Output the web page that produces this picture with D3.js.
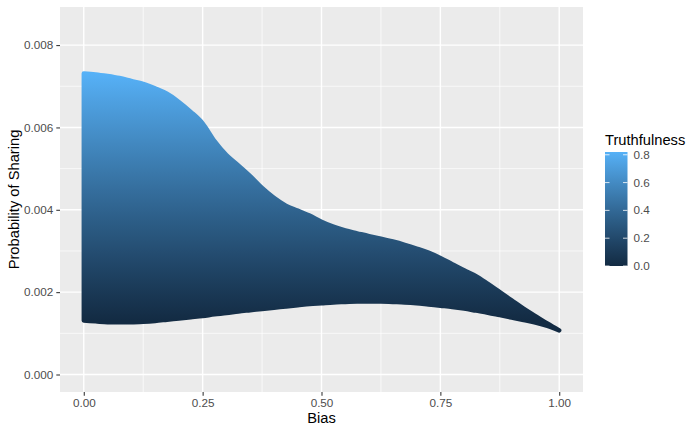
<!DOCTYPE html>
<html>
<head>
<meta charset="utf-8">
<script src="https://cdn.jsdelivr.net/npm/d3@7"></script>
<style>
body { margin: 0; background: #fff; }
text { font-family: "Liberation Sans", Arial, sans-serif; }
</style>
</head>
<body>
<svg id="chart" width="700" height="433"></svg>
<script>
// bias grid and the spread of sharing probability
var bias = [0, 0.025, 0.05, 0.075, 0.1, 0.125, 0.15, 0.175, 0.2, 0.225, 0.25, 0.275, 0.3, 0.325, 0.35, 0.375, 0.4, 0.425, 0.45, 0.475,
            0.5, 0.525, 0.55, 0.575, 0.6, 0.625, 0.65, 0.675, 0.7, 0.725, 0.75, 0.775, 0.8, 0.825, 0.85, 0.875, 0.9, 0.925, 0.95, 0.975, 1]
var upperProb = [0.00731, 0.00729, 0.00725, 0.00720, 0.00713, 0.00706, 0.00695, 0.00682, 0.00662, 0.00638, 0.00610, 0.00567, 0.00533, 0.00508,
                 0.00482, 0.00453, 0.00429, 0.00410, 0.00398, 0.00386, 0.00371, 0.00359, 0.00350, 0.00343, 0.00336, 0.00330, 0.00323,
                 0.00315, 0.00306, 0.00296, 0.00283, 0.00268, 0.00253, 0.00239, 0.00220, 0.00200, 0.00180, 0.00160, 0.00142, 0.00124, 0.00107]
var lowerProb = [0.00131, 0.00129, 0.00127, 0.00127, 0.00127, 0.00128, 0.00130, 0.00133, 0.00136, 0.00139, 0.00142, 0.00146, 0.00149, 0.00153,
                 0.00156, 0.00159, 0.00162, 0.00165, 0.00168, 0.00171, 0.00173, 0.00175, 0.00176, 0.00177, 0.00177, 0.00177, 0.00176,
                 0.00175, 0.00173, 0.00170, 0.00167, 0.00164, 0.00160, 0.00155, 0.00150, 0.00144, 0.00138, 0.00132, 0.00126, 0.00118, 0.00107]

var xTicks = [0, 0.25, 0.5, 0.75, 1]
var yTicks = [0, 0.002, 0.004, 0.006, 0.008]
var truthTicks = [0, 0.2, 0.4, 0.6, 0.8]
var truthLimits = [0, 0.82]
var truthProb = [0.00131, 0.00731] // where lowest / highest truthfulness sit (bias 0 column)

var svg = d3.select("#chart")
var panel = {left: 60, right: 583, top: 7, bottom: 392}

var x = d3.scaleLinear().domain([-0.05, 1.05]).range([panel.left, panel.right])
var y = d3.scaleLinear().domain([-0.000425, 0.008925]).range([panel.bottom, panel.top])
var color = d3.scaleLinear().domain(truthLimits).range(["#132B43", "#56B1F7"]).interpolate(d3.interpolateLab)

var defs = svg.append("defs")

// gradient across the data: truthfulness rises with probability
var grad = defs.append("linearGradient")
    .attr("id", "truthGrad")
    .attr("gradientUnits", "userSpaceOnUse")
    .attr("x1", 0).attr("x2", 0)
    .attr("y1", y(truthProb[0])).attr("y2", y(truthProb[1]))
d3.range(0, 1.0001, 0.1).forEach(function(f){
    grad.append("stop").attr("offset", f).attr("stop-color", color(truthLimits[0] + f * (truthLimits[1] - truthLimits[0])))
})

// legend gradient
var lgrad = defs.append("linearGradient")
    .attr("id", "legendGrad")
    .attr("x1", 0).attr("x2", 0).attr("y1", 1).attr("y2", 0)
d3.range(0, 1.0001, 0.1).forEach(function(f){
    lgrad.append("stop").attr("offset", f).attr("stop-color", color(truthLimits[0] + f * (truthLimits[1] - truthLimits[0])))
})

// panel background
svg.append("rect")
    .attr("x", panel.left).attr("y", panel.top)
    .attr("width", panel.right - panel.left).attr("height", panel.bottom - panel.top)
    .attr("fill", "#EBEBEB")

var xMinor = d3.pairs(xTicks).map(function(p){ return (p[0] + p[1]) / 2 })
var yMinor = d3.pairs(yTicks).map(function(p){ return (p[0] + p[1]) / 2 })

var grid = svg.append("g")
grid.selectAll(".xminor").data(xMinor).enter().append("line")
    .attr("x1", function(d){ return x(d) }).attr("x2", function(d){ return x(d) })
    .attr("y1", panel.top).attr("y2", panel.bottom)
    .attr("stroke", "#fff").attr("stroke-width", 0.7)
grid.selectAll(".yminor").data(yMinor).enter().append("line")
    .attr("y1", function(d){ return y(d) }).attr("y2", function(d){ return y(d) })
    .attr("x1", panel.left).attr("x2", panel.right)
    .attr("stroke", "#fff").attr("stroke-width", 0.7)
grid.selectAll(".xmajor").data(xTicks).enter().append("line")
    .attr("x1", function(d){ return x(d) }).attr("x2", function(d){ return x(d) })
    .attr("y1", panel.top).attr("y2", panel.bottom)
    .attr("stroke", "#fff").attr("stroke-width", 1.4)
grid.selectAll(".ymajor").data(yTicks).enter().append("line")
    .attr("y1", function(d){ return y(d) }).attr("y2", function(d){ return y(d) })
    .attr("x1", panel.left).attr("x2", panel.right)
    .attr("stroke", "#fff").attr("stroke-width", 1.4)

// the band of points
var rows = bias.map(function(b, i){ return {b: b, lo: lowerProb[i], hi: upperProb[i]} })
var area = d3.area()
    .x(function(d){ return x(d.b) })
    .y0(function(d){ return y(d.lo) })
    .y1(function(d){ return y(d.hi) })
    .curve(d3.curveMonotoneX)

svg.append("path")
    .datum(rows)
    .attr("d", area)
    .attr("fill", "url(#truthGrad)")
    .attr("stroke", "url(#truthGrad)")
    .attr("stroke-width", 4.4)
    .attr("stroke-linejoin", "round")

// axes
var xAxis = svg.append("g").attr("transform", "translate(0," + panel.bottom + ")")
    .call(d3.axisBottom(x).tickValues(xTicks).tickFormat(d3.format(".2f")).tickSize(3.7).tickPadding(3))
var yAxis = svg.append("g").attr("transform", "translate(" + panel.left + ",0)")
    .call(d3.axisLeft(y).tickValues(yTicks).tickFormat(d3.format(".3f")).tickSize(3.7).tickPadding(3))
;[xAxis, yAxis].forEach(function(a){
    a.select(".domain").remove()
    a.selectAll(".tick line").attr("stroke", "#333333").attr("stroke-width", 1.07)
    a.selectAll(".tick text").attr("fill", "#4D4D4D").style("font-size", "11.7px")
        .style("font-family", "'Liberation Sans', Arial, sans-serif")
})

svg.append("text")
    .attr("x", (panel.left + panel.right) / 2).attr("y", 423)
    .attr("text-anchor", "middle").style("font-size", "14.7px").attr("fill", "#000")
    .text("Bias")
svg.append("text")
    .attr("transform", "translate(19," + ((panel.top + panel.bottom) / 2) + ") rotate(-90)")
    .attr("text-anchor", "middle").style("font-size", "14.7px").attr("fill", "#000")
    .text("Probability of Sharing")

// colour bar legend
var bar = {x: 605, w: 22.5, top: 152, bottom: 266}
var ly = d3.scaleLinear().domain(truthLimits).range([bar.bottom, bar.top])
var legend = svg.append("g")
legend.append("text").attr("x", bar.x).attr("y", 144.5)
    .style("font-size", "14.7px").attr("fill", "#000").text("Truthfulness")
legend.append("rect")
    .attr("x", bar.x).attr("y", bar.top).attr("width", bar.w).attr("height", bar.bottom - bar.top)
    .attr("fill", "url(#legendGrad)")
legend.selectAll(".tl").data(truthTicks).enter().append("line")
    .attr("x1", bar.x).attr("x2", bar.x + bar.w / 5)
    .attr("y1", function(d){ return ly(d) }).attr("y2", function(d){ return ly(d) })
    .attr("stroke", "#fff").attr("stroke-width", 0.8)
legend.selectAll(".tr").data(truthTicks).enter().append("line")
    .attr("x1", bar.x + bar.w * 4 / 5).attr("x2", bar.x + bar.w)
    .attr("y1", function(d){ return ly(d) }).attr("y2", function(d){ return ly(d) })
    .attr("stroke", "#fff").attr("stroke-width", 0.8)
legend.selectAll(".lab").data(truthTicks).enter().append("text")
    .attr("x", bar.x + bar.w + 6).attr("y", function(d){ return ly(d) }).attr("dy", "0.35em")
    .style("font-size", "11.7px").attr("fill", "#4D4D4D")
    .text(function(d){ return d3.format(".1f")(d) })
</script>
</body>
</html>
